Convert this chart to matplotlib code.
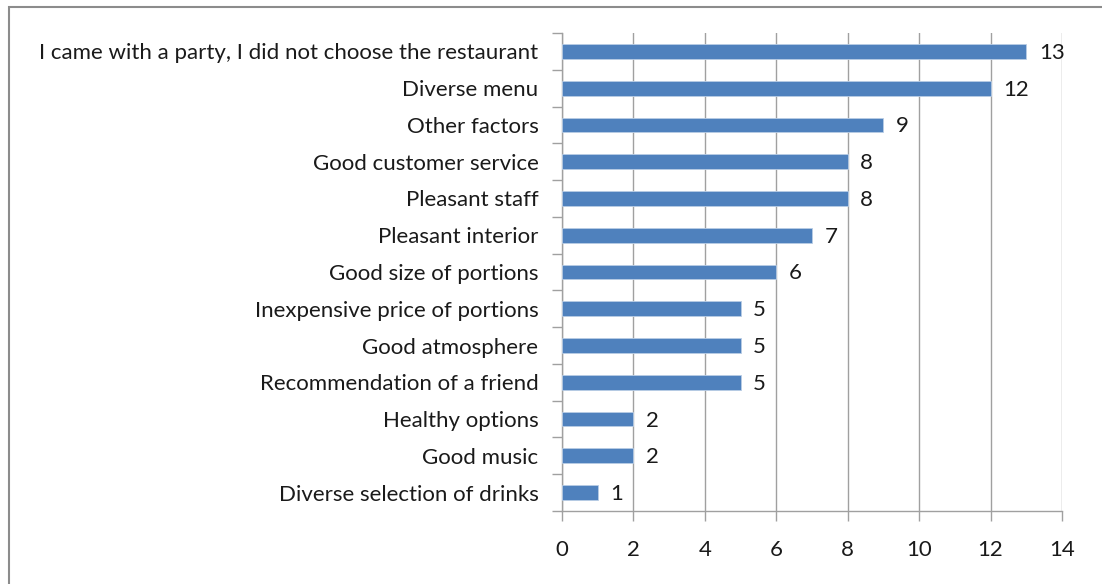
import matplotlib.pyplot as plt
from matplotlib.patches import Rectangle

plt.rcParams['font.family'] = ['Lato', 'DejaVu Sans']

categories = [
    "I came with a party, I did not choose the restaurant",
    "Diverse menu",
    "Other factors",
    "Good customer service",
    "Pleasant staff",
    "Pleasant interior",
    "Good size of portions",
    "Inexpensive price of portions",
    "Good atmosphere",
    "Recommendation of a friend",
    "Healthy options",
    "Good music",
    "Diverse selection of drinks",
]
counts = [13, 12, 9, 8, 8, 7, 6, 5, 5, 5, 2, 2, 1]
x_ticks = [0, 2, 4, 6, 8, 10, 12, 14]

BAR_COLOR = "#4F81BD"
GRID_COLOR = "#A0A0A0"
TEXT_COLOR = "#1a1a1a"
FS = 16

fig = plt.figure(figsize=(11.02, 5.84), dpi=100)
ax = fig.add_axes([562 / 1102, 1 - 511 / 584, 500 / 1102, 478 / 584])

# outer chart frame
fig.patches.append(Rectangle((9 / 1102, -0.05), 1.2, 1 - 7 / 584 + 0.05,
                             transform=fig.transFigure, fill=False,
                             edgecolor="#8c8c8c", linewidth=1.5))

y = list(range(len(categories)))[::-1]
ax.barh(y, counts, height=0.4, color=BAR_COLOR, edgecolor="#b9cde5",
        linewidth=0.6, zorder=3)

for yi, v in zip(y, counts):
    ax.text(v + 0.35, yi - 0.04, str(v), va="center", ha="left",
            fontsize=FS, color=TEXT_COLOR)

ax.set_xlim(0, 14)
ax.set_ylim(-0.5, len(categories) - 0.5)
ax.set_xticks(x_ticks)
ax.set_xticklabels([str(t) for t in x_ticks], fontsize=FS, color=TEXT_COLOR)
ax.set_yticks(y)
ax.set_yticklabels(categories, fontsize=FS, color=TEXT_COLOR)

# tick marks between categories, no marks at the labels
ax.set_yticks([i - 0.5 for i in range(len(categories) + 1)], minor=True)
ax.tick_params(axis="y", which="major", length=0, pad=17)
ax.tick_params(axis="y", which="minor", length=7, color=GRID_COLOR, width=1)
ax.tick_params(axis="x", length=7, color=GRID_COLOR, width=1, pad=14)

ax.grid(axis="x", color=GRID_COLOR, linewidth=1, zorder=0)
ax.set_axisbelow(True)
for side in ("top", "right"):
    ax.spines[side].set_visible(False)
for side in ("left", "bottom"):
    ax.spines[side].set_color(GRID_COLOR)
    ax.spines[side].set_linewidth(1)

fig.savefig("out.png", dpi=100)
